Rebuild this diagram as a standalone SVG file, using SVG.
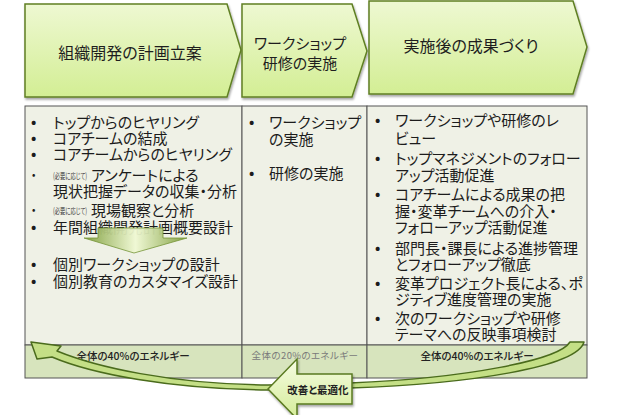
<svg xmlns="http://www.w3.org/2000/svg" width="640" height="415" viewBox="0 0 640 415">
<defs>
<linearGradient id="chev" x1="0" y1="0" x2="0" y2="1">
<stop offset="0" stop-color="#eef8d2"/>
<stop offset="1" stop-color="#d3ee94"/>
</linearGradient>
<linearGradient id="down" x1="0" y1="0" x2="1" y2="0">
<stop offset="0" stop-color="#7f9f3c"/>
<stop offset="0.5" stop-color="#f0f9d4"/>
<stop offset="1" stop-color="#7f9f3c"/>
</linearGradient>
<linearGradient id="impr" x1="0" y1="0" x2="0" y2="1">
<stop offset="0" stop-color="#f6fce2"/>
<stop offset="1" stop-color="#d4ec98"/>
</linearGradient>
<filter id="sh" x="-10%" y="-10%" width="120%" height="130%">
<feDropShadow dx="1" dy="2" stdDeviation="1.2" flood-color="#000" flood-opacity="0.35"/>
</filter>
</defs>
<style>
text{font-family:"Noto Sans CJK JP","Noto Sans",sans-serif;font-feature-settings:"palt";dominant-baseline:central;fill:#1c1c1c}
.hd{font-size:16px;text-anchor:middle;fill:#1e1e1e}
.hd2{font-size:15px;text-anchor:middle;fill:#1e1e1e}
.b{font-size:15px}
.bul{font-size:14px;font-weight:bold}
.sbul{font-size:9px;font-weight:bold}
.sm{font-size:8.5px;fill:#3a3a3a}
.en{font-size:10.5px;text-anchor:middle;font-weight:500;fill:#222}
.en2{font-size:9.5px;text-anchor:middle;fill:#7a7a7a;letter-spacing:0.4px}
.chev{fill:url(#chev);stroke:#5f7f23;stroke-width:1.5;filter:url(#sh)}
.cell{fill:#eff1e6;stroke:#555;stroke-width:1}
.ecell{fill:#d7e4bd;stroke:#555;stroke-width:1}
.ib{font-size:10.5px;font-weight:bold;text-anchor:middle;fill:#222}
</style>

<g id="phase1"><path class="chev" d="M25,4 H227 L241,50 L227,97 H25 Z"/><text class="hd" x="130" y="52">組織開発の計画立案</text></g>
<g id="phase2"><path class="chev" d="M242,4 H352 L367,51 L352,97 H242 Z"/><text class="hd2" x="300" y="42">ワークショップ</text><text class="hd2" x="300" y="62">研修の実施</text></g>
<g id="phase3"><path class="chev" d="M369,1 H573 L587,47 L573,94 H369 Z"/><text class="hd" x="471" y="45">実施後の成果づくり</text></g>

<g id="col1">
<rect class="cell" x="25" y="106" width="217" height="239"/>
<text class="bul" x="31" y="121">•</text><text class="b" x="53" y="121">トップからのヒヤリング</text>
<text class="bul" x="31" y="137">•</text><text class="b" x="53" y="137">コアチームの結成</text>
<text class="bul" x="31" y="153">•</text><text class="b" x="53" y="153">コアチームからのヒヤリング</text>
<text class="sbul" x="32" y="174">•</text><text class="sm" x="53" y="175" textLength="34" lengthAdjust="spacingAndGlyphs">(必要に応じて)</text><text class="b" x="91" y="174">アンケートによる</text>
<text class="b" x="53" y="190">現状把握データの収集・分析</text>
<text class="sbul" x="32" y="209">•</text><text class="sm" x="53" y="210" textLength="34" lengthAdjust="spacingAndGlyphs">(必要に応じて)</text><text class="b" x="91" y="209">現場観察と分析</text>
<text class="bul" x="31" y="226">•</text><text class="b" x="53" y="226">年間組織開発計画概要設計</text>
<text class="bul" x="31" y="263">•</text><text class="b" x="53" y="263">個別ワークショップの設計</text>
<text class="bul" x="31" y="280">•</text><text class="b" x="53" y="280">個別教育のカスタマイズ設計</text>
</g>
<g id="col2">
<rect class="cell" x="242" y="106" width="125" height="239"/>
<text class="bul" x="249" y="121">•</text><text class="b" x="269" y="121">ワークショップ</text>
<text class="b" x="269" y="138">の実施</text>
<text class="bul" x="249" y="172">•</text><text class="b" x="269" y="172">研修の実施</text>
</g>
<g id="col3">
<rect class="cell" x="367" y="106" width="220" height="239"/>
<text class="bul" x="375" y="119">•</text><text class="b" x="395" y="119">ワークショップや研修のレ</text>
<text class="b" x="395" y="137">ビュー</text>
<text class="bul" x="375" y="157">•</text><text class="b" x="395" y="157">トップマネジメントのフォロー</text>
<text class="b" x="395" y="174">アップ活動促進</text>
<text class="bul" x="375" y="193">•</text><text class="b" x="395" y="193">コアチームによる成果の把</text>
<text class="b" x="395" y="210">握・変革チームへの介入・</text>
<text class="b" x="395" y="226">フォローアップ活動促進</text>
<text class="bul" x="375" y="247">•</text><text class="b" x="395" y="247">部門長・課長による進捗管理</text>
<text class="b" x="395" y="263">とフォローアップ徹底</text>
<text class="bul" x="375" y="282">•</text><text class="b" x="395" y="282">変革プロジェクト長による、ポ</text>
<text class="b" x="395" y="298">ジティブ進度管理の実施</text>
<text class="bul" x="375" y="317">•</text><text class="b" x="395" y="317">次のワークショップや研修</text>
<text class="b" x="395" y="333">テーマへの反映事項検討</text>
</g>

<g id="energy1"><rect class="ecell" x="25" y="345" width="217" height="33"/><text class="en" x="133" y="355">全体の40%のエネルギー</text></g>
<g id="energy2"><rect class="ecell" x="242" y="345" width="125" height="33"/><text class="en2" x="305" y="355">全体の20%のエネルギー</text></g>
<g id="energy3"><rect class="ecell" x="367" y="345" width="220" height="33"/><text class="en" x="477" y="355">全体の40%のエネルギー</text></g>

<g id="connectors">
<path id="down-arrow" d="M98,228 H163 V238 H187 L134,253 L84,238 H98 Z" fill="url(#down)" stroke="#6f8f2f" stroke-width="0.8" opacity="0.95"/>
<path id="cycle-arrow" d="M584,342 C577,367 470,384 350,388 L268,390 C170,389 92,374 52,357 L37,359 L31,342 L61,346 L57,351 C96,367 170,384 268,385 L350,383 C468,378 559,360 570,342 Z" fill="#c4df86" stroke="#4a6b1c" stroke-width="1.5" stroke-linejoin="round"/>
</g>

<g id="improve">
<path d="M268,389 L297,359 V374 H352 V404 H297 V419 Z" fill="url(#impr)" stroke="#5a7a20" stroke-width="1.5" filter="url(#sh)"/>
<text class="ib" x="318" y="389">改善と最適化</text>
</g>
</svg>
